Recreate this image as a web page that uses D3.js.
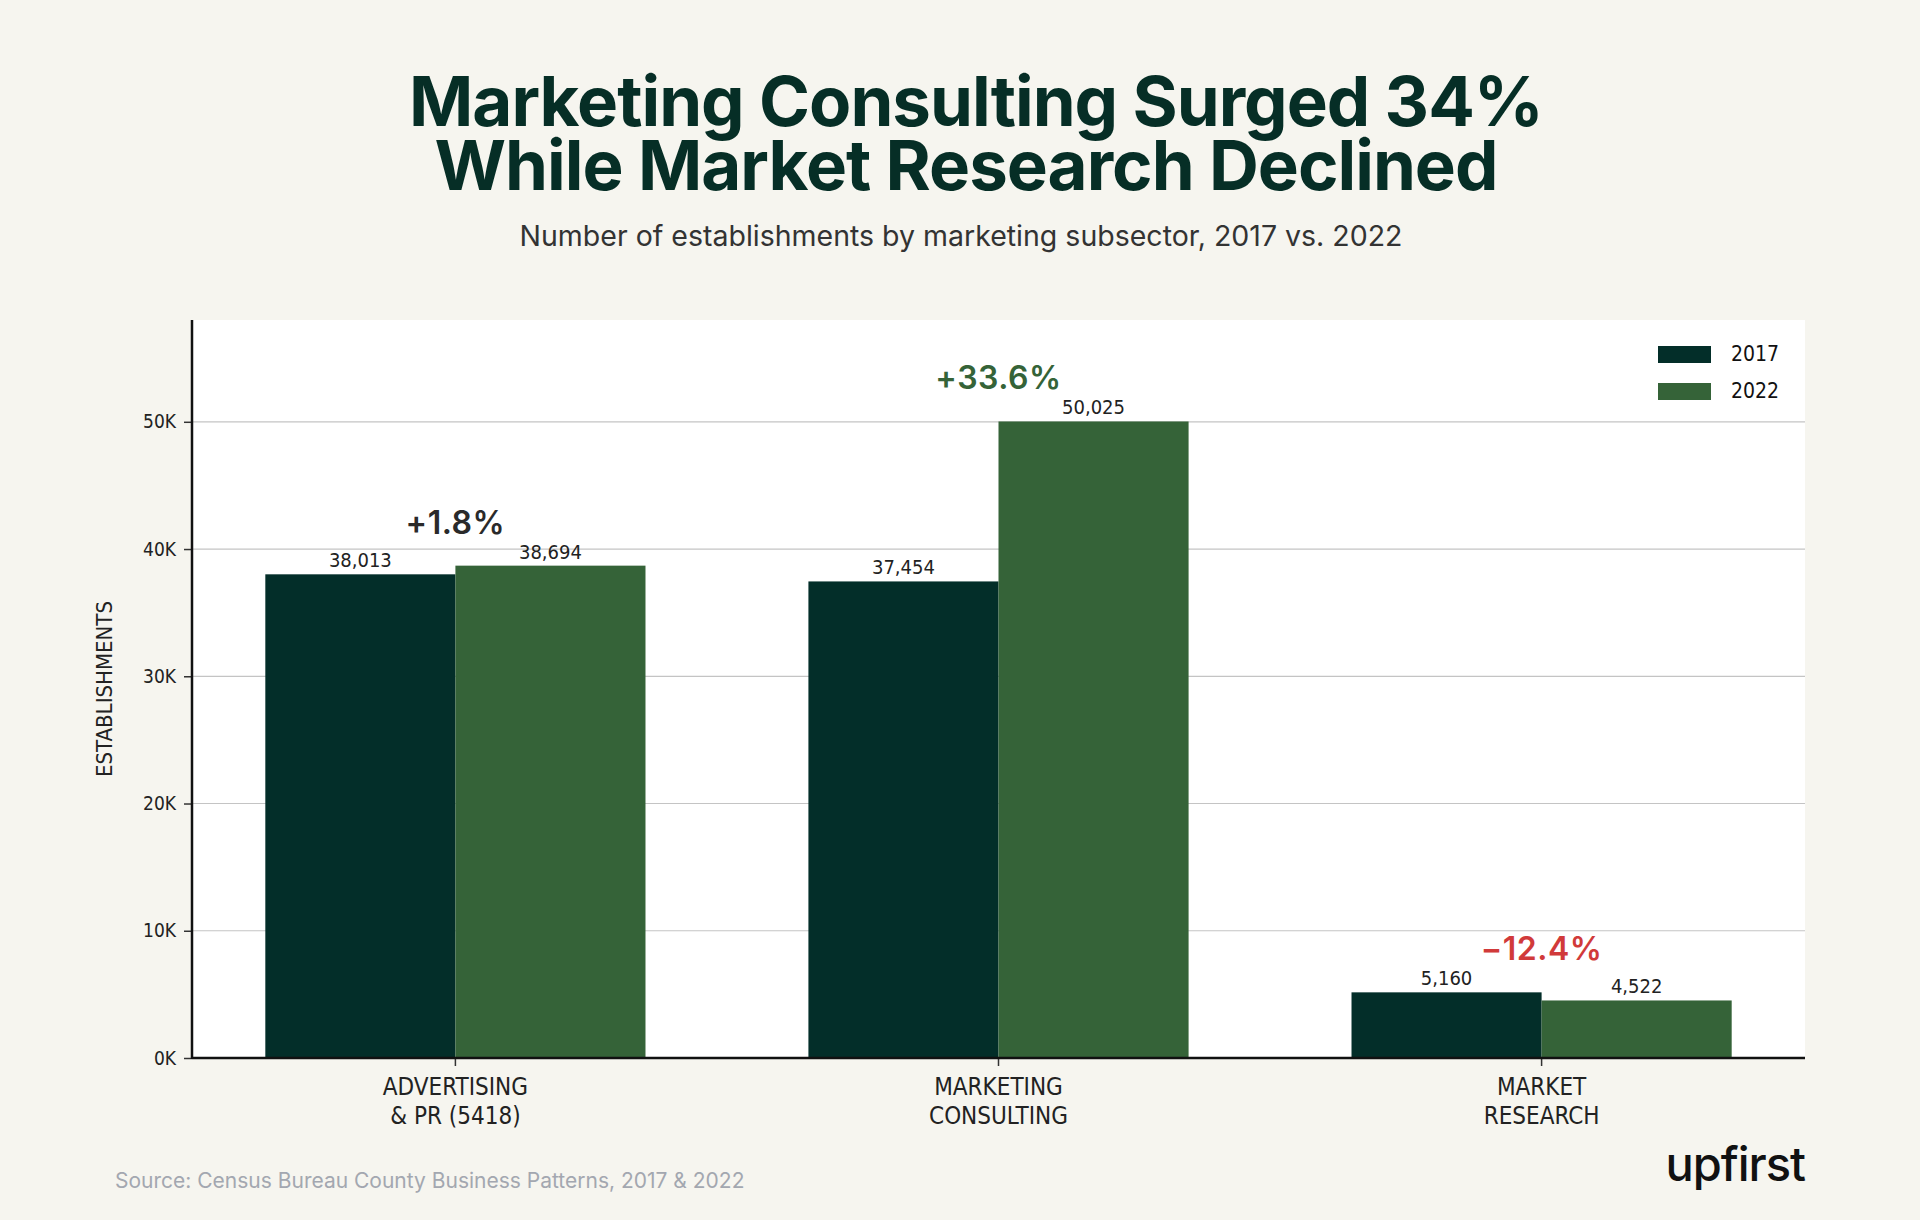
<!DOCTYPE html>
<html>
<head>
<meta charset="utf-8">
<script src="https://cdn.jsdelivr.net/npm/d3@7"></script>
<style>
  html, body { margin: 0; padding: 0; background: #f6f5ef; }
  svg { display: block; }
</style>
</head>
<body>
<script>
// data
const categories = ["ADVERTISING\n& PR (5418)", "MARKETING\nCONSULTING", "MARKET\nRESEARCH"];
const years = ["2017", "2022"];
const values2017 = [38013, 37454, 5160];
const values2022 = [38694, 50025, 4522];
const changeLabels = ["+1.8%", "+33.6%", "\u221212.4%"];
const yTicks = [0, 10000, 20000, 30000, 40000, 50000];
const titleLines = ["Marketing Consulting Surged 34%", "While Market Research Declined"];

const width = 1920, height = 1220;
const margin = { top: 320, right: 115, bottom: 162, left: 192 };

const colors = {
    bg: '#f6f5ef',
    y2017: '#032e29',
    y2022: '#356338',
    title: '#062e26',
    text: '#222222',
    up: '#356338',
    flat: '#2a2a2a',
    down: '#d13a3a'
};
const changeColors = [colors.flat, colors.up, colors.down];
const condensed = "'Liberation Sans Narrow', 'DejaVu Sans Condensed', sans-serif";
const sans = "Inter, 'Open Sans', sans-serif";

const svg = d3.select("body").append("svg")
    .attr("width", width)
    .attr("height", height);

svg.append("rect").attr("width", width).attr("height", height).attr("fill", colors.bg);

// title, twee regels
svg.append("g").selectAll("text")
    .data(titleLines)
    .enter().append("text")
    .attr("x", (d, i) => i === 0 ? 976 : 966)
    .attr("y", (d, i) => 126 + i * 64)
    .attr("text-anchor", "middle")
    .style("font-family", sans)
    .style("font-weight", 700)
    .style("font-size", "69px")
    .style("letter-spacing", "-1px")
    .attr("fill", colors.title)
    .text(d => d);

svg.append("text")
    .attr("x", 961)
    .attr("y", 246)
    .attr("text-anchor", "middle")
    .style("font-family", sans)
    .style("font-size", "28.5px")
    .attr("fill", "#333")
    .text("Number of establishments by marketing subsector, 2017 vs. 2022");

const x0 = margin.left, x1 = width - margin.right;
const yTop = margin.top, yBot = height - margin.bottom;

// plot background
svg.append("rect")
    .attr("x", x0).attr("y", yTop)
    .attr("width", x1 - x0).attr("height", yBot - yTop)
    .attr("fill", "#ffffff");

const x = d3.scaleBand()
    .domain(categories)
    .range([x0, x1])
    .paddingInner(0.3)
    .paddingOuter(0.135);

const xSub = d3.scaleBand()
    .domain(years)
    .range([0, x.bandwidth()]);

const y = d3.scaleLinear()
    .domain([0, 58000])
    .range([yBot, yTop]);

// gridlines
svg.append("g")
    .selectAll("line")
    .data(yTicks.filter(d => d > 0))
    .enter().append("line")
    .attr("x1", x0).attr("x2", x1)
    .attr("y1", d => y(d)).attr("y2", d => y(d))
    .attr("stroke", "#c4c4c4")
    .attr("stroke-width", 1.2);

const rows = categories.map((c, i) => ({ cat: c, i: i, vals: [values2017[i], values2022[i]] }));

const group = svg.append("g").selectAll("g")
    .data(rows)
    .enter().append("g")
    .attr("transform", d => `translate(${x(d.cat)},0)`);

group.selectAll("rect")
    .data(d => d.vals.map((v, j) => ({ year: years[j], v: v })))
    .enter().append("rect")
    .attr("x", d => xSub(d.year))
    .attr("y", d => y(d.v))
    .attr("width", xSub.bandwidth())
    .attr("height", d => yBot - y(d.v))
    .attr("fill", d => d.year === "2017" ? colors.y2017 : colors.y2022);

// value labels
group.selectAll("text.val")
    .data(d => d.vals.map((v, j) => ({ year: years[j], v: v })))
    .enter().append("text")
    .attr("class", "val")
    .attr("x", d => xSub(d.year) + xSub.bandwidth() / 2)
    .attr("y", d => y(d.v) - 7)
    .attr("text-anchor", "middle")
    .style("font-family", condensed)
    .style("font-size", "20px")
    .attr("fill", colors.text)
    .text(d => d3.format(",")(d.v));

// change labels
group.append("text")
    .attr("x", x.bandwidth() / 2)
    .attr("y", d => y(d3.max(d.vals)) - 32)
    .attr("text-anchor", "middle")
    .style("font-family", sans)
    .style("font-weight", 600)
    .style("font-size", "32px")
    .style("letter-spacing", "0.5px")
    .attr("fill", d => changeColors[d.i])
    .text(d => changeLabels[d.i]);

// axes
const yAxis = svg.append("g")
    .attr("transform", `translate(${x0},0)`)
    .call(d3.axisLeft(y).tickValues(yTicks).tickSize(8).tickPadding(8).tickFormat(d => (d / 1000) + "K"));
yAxis.select(".domain").remove();
yAxis.selectAll("text")
    .style("font-family", condensed)
    .style("font-size", "19px")
    .attr("fill", colors.text);
yAxis.selectAll("line").attr("stroke", "#333").attr("stroke-width", 1.5);

svg.append("line")
    .attr("x1", x0).attr("x2", x0)
    .attr("y1", yTop).attr("y2", yBot + 1)
    .attr("stroke", "#111").attr("stroke-width", 2.5);

const xAxis = svg.append("g")
    .attr("transform", `translate(0,${yBot})`)
    .call(d3.axisBottom(x).tickSize(8).tickFormat(""));
xAxis.select(".domain").remove();
xAxis.selectAll("line").attr("stroke", "#333").attr("stroke-width", 1.5);

svg.append("line")
    .attr("x1", x0).attr("x2", x1)
    .attr("y1", yBot).attr("y2", yBot)
    .attr("stroke", "#111").attr("stroke-width", 2.5);

// category labels
svg.append("g").selectAll("text")
    .data(categories)
    .enter().append("text")
    .attr("text-anchor", "middle")
    .style("font-family", condensed)
    .style("font-size", "24px")
    .attr("fill", colors.text)
    .each(function(d) {
        const t = d3.select(this);
        d.split("\n").forEach((line, k) => {
            t.append("tspan")
                .attr("x", x(d) + x.bandwidth() / 2)
                .attr("y", 1095 + k * 29)
                .text(line);
        });
    });

// y axis title
svg.append("text")
    .attr("transform", "translate(112,689) rotate(-90)")
    .attr("text-anchor", "middle")
    .style("font-family", condensed)
    .style("font-size", "22px")
    .attr("fill", colors.text)
    .text("ESTABLISHMENTS");

// legend
const legend = svg.append("g").selectAll("g")
    .data(years)
    .enter().append("g")
    .attr("transform", (d, i) => `translate(1658,${346 + i * 37})`);
legend.append("rect")
    .attr("width", 53).attr("height", 17)
    .attr("fill", d => d === "2017" ? colors.y2017 : colors.y2022);
legend.append("text")
    .attr("x", 73).attr("y", 15)
    .style("font-family", condensed)
    .style("font-size", "21px")
    .attr("fill", "#111")
    .text(d => d);

// source
svg.append("text")
    .attr("x", 115).attr("y", 1188)
    .style("font-family", sans)
    .style("font-size", "21px")
    .attr("fill", "#a3a7b0")
    .text("Source: Census Bureau County Business Patterns, 2017 & 2022");

// logo
svg.append("text")
    .attr("x", 1805).attr("y", 1181)
    .attr("text-anchor", "end")
    .style("font-family", sans)
    .style("font-weight", 500)
    .style("font-size", "47px")
    .style("letter-spacing", "-1px")
    .attr("fill", "#111")
    .text("upfirst");
</script>
</body>
</html>
